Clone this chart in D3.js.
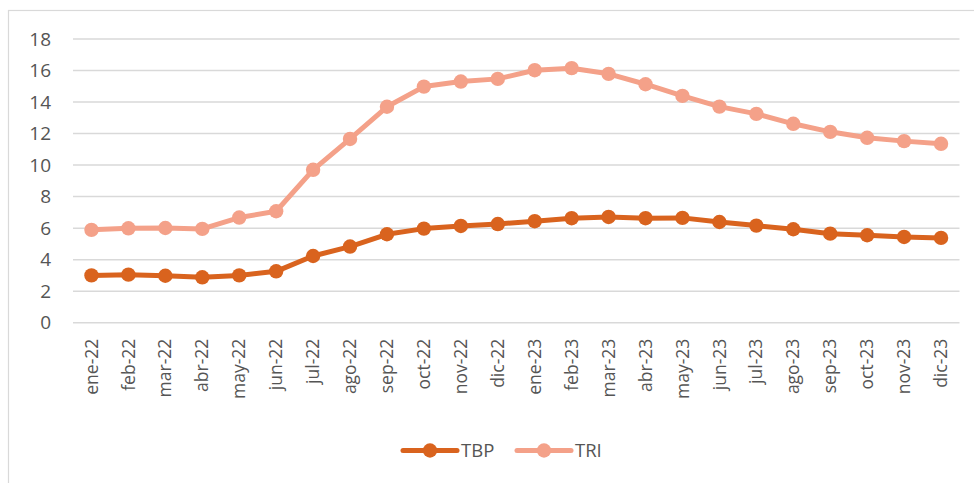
<!DOCTYPE html>
<html>
<head>
<meta charset="utf-8">
<script src="https://cdn.jsdelivr.net/npm/d3@7"></script>
<style>
  html, body { margin: 0; padding: 0; background: #fff; }
  svg { display: block; font-family: "Open Sans", sans-serif; }
</style>
</head>
<body>
<div id="chart"></div>
<script>
const months = ['ene-22', 'feb-22', 'mar-22', 'abr-22', 'may-22', 'jun-22', 'jul-22', 'ago-22',
  'sep-22', 'oct-22', 'nov-22', 'dic-22', 'ene-23', 'feb-23', 'mar-23', 'abr-23', 'may-23',
  'jun-23', 'jul-23', 'ago-23', 'sep-23', 'oct-23', 'nov-23', 'dic-23'];
const tbp = [3.0, 3.05, 2.98, 2.88, 3.0, 3.26, 4.23, 4.83, 5.61, 5.97, 6.14, 6.26,
  6.44, 6.63, 6.71, 6.63, 6.65, 6.39, 6.16, 5.93, 5.65, 5.55, 5.44, 5.38];
const tri = [5.89, 5.99, 6.01, 5.95, 6.67, 7.07, 9.70, 11.66, 13.70, 14.98, 15.30, 15.47,
  16.02, 16.15, 15.79, 15.13, 14.39, 13.71, 13.25, 12.62, 12.11, 11.73, 11.52, 11.35];
const yTicks = [0, 2, 4, 6, 8, 10, 12, 14, 16, 18];

const series = [
  { name: 'TBP', values: tbp, color: '#d9631e' },
  { name: 'TRI', values: tri, color: '#f4a189' }
];

const width = 974, height = 483;
const textColor = '#555555';

const svg = d3.select('#chart').append('svg')
  .attr('width', width)
  .attr('height', height);

// chart area frame (right/bottom edges run off the picture)
svg.append('rect')
  .attr('x', 8.5).attr('y', 10.5)
  .attr('width', 1000).attr('height', 500)
  .attr('fill', 'none')
  .attr('stroke', '#d9d9d9')
  .attr('stroke-width', 1.2);

const x = d3.scaleBand().domain(months).range([73, 959.5]).paddingInner(0).paddingOuter(0);
const y = d3.scaleLinear().domain([0, 18]).range([322.7, 39]);
const cx = (i) => x(months[i]) + x.bandwidth() / 2;

// gridlines
svg.append('g')
  .selectAll('line')
  .data(yTicks)
  .join('line')
    .attr('x1', 73).attr('x2', 959.5)
    .attr('y1', d => y(d)).attr('y2', d => y(d))
    .attr('stroke', '#d9d9d9')
    .attr('stroke-width', 1.5);

// y axis labels
const yAxis = svg.append('g')
  .attr('transform', 'translate(51,0)')
  .call(d3.axisLeft(y).tickValues(yTicks).tickSize(0).tickPadding(0));
yAxis.select('.domain').remove();
yAxis.selectAll('text')
  .attr('fill', textColor)
  .style('font-size', '19px')
  .style('font-family', '"Open Sans", sans-serif');

// x axis labels (rotated)
const xAxis = svg.append('g')
  .attr('transform', `translate(0,${y(0)})`)
  .call(d3.axisBottom(x).tickSize(0).tickPadding(0));
xAxis.select('.domain').remove();
xAxis.selectAll('text')
  .attr('fill', textColor)
  .style('font-size', '17.5px')
  .style('font-family', '"Open Sans", sans-serif')
  .attr('text-anchor', 'end')
  .attr('dy', '0.35em')
  .attr('transform', 'translate(0,16) rotate(-90)')
  .attr('x', 0).attr('y', 0);

// lines + markers
const line = d3.line()
  .x((d, i) => cx(i))
  .y(d => y(d));

series.forEach(s => {
  const g = svg.append('g');
  g.append('path')
    .datum(s.values)
    .attr('d', line)
    .attr('fill', 'none')
    .attr('stroke', s.color)
    .attr('stroke-width', 5)
    .attr('stroke-linejoin', 'round')
    .attr('stroke-linecap', 'round');
  g.selectAll('circle')
    .data(s.values)
    .join('circle')
      .attr('cx', (d, i) => cx(i))
      .attr('cy', d => y(d))
      .attr('r', 7.2)
      .attr('fill', s.color);
});

// legend
const legendX = [403, 517];
const legendY = 450.5;
const legend = svg.append('g');
series.forEach((s, i) => {
  const lg = legend.append('g').attr('transform', `translate(${legendX[i]},${legendY})`);
  lg.append('line')
    .attr('x1', 0).attr('x2', 54)
    .attr('stroke', s.color)
    .attr('stroke-width', 5)
    .attr('stroke-linecap', 'round');
  lg.append('circle').attr('cx', 27).attr('r', 7.2).attr('fill', s.color);
  lg.append('text')
    .attr('x', 58).attr('dy', '0.36em')
    .attr('fill', textColor)
    .style('font-size', '18.5px')
    .text(s.name);
});
</script>
</body>
</html>
